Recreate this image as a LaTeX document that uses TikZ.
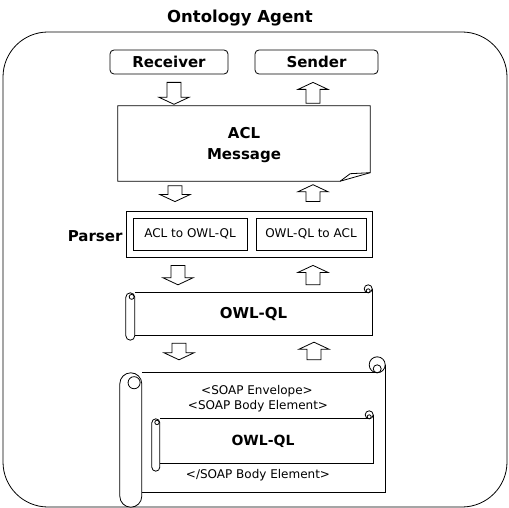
\documentclass[tikz,border=0pt]{standalone}
\usepackage{fontspec}
\setmainfont{DejaVu Sans}
\usetikzlibrary{calc}
\tikzset{
  ln/.style={line width=0.8pt, draw=black},
  boxlabel/.style={font=\bfseries\fontsize{15}{21}\selectfont, inner sep=0pt, align=center},
  titlest/.style={font=\bfseries\fontsize{16.5}{20}\selectfont, inner sep=0pt},
  plain/.style={font=\fontsize{12}{14}\selectfont, inner sep=0pt},
  blockdn/.style={ln, fill=white, to path={let \p1=(\tikztostart), \p2=(\tikztotarget) in
    (\x1-7pt,\y1) -- (\x1+7pt,\y1) -- (\x1+7pt,\y2+7pt) -- (\x1+15pt,\y2+7pt) -- (\x1,\y2)
    -- (\x1-15pt,\y2+7pt) -- (\x1-7pt,\y2+7pt) -- cycle}},
  blockup/.style={ln, fill=white, to path={let \p1=(\tikztostart), \p2=(\tikztotarget) in
    (\x1-7pt,\y1) -- (\x1+7pt,\y1) -- (\x1+7pt,\y2-7pt) -- (\x1+15pt,\y2-7pt) -- (\x1,\y2)
    -- (\x1-15pt,\y2-7pt) -- (\x1-7pt,\y2-7pt) -- cycle}},
}
% #1 body node, #2 curl radius, #3 roll half width, #4 roll extension below body
\newcommand{\scrollframe}[4]{%
  \draw[ln] (#1.north west) -- ([shift={(-#2,0)}]#1.north east);
  \draw[ln] ([shift={(0,-#2)}]#1.north east) -- (#1.south east) -- (#1.south west);
  \draw[ln] ([shift={(-#2,-#2)}]#1.north east) circle[radius=#2pt];
  \draw[ln] ([shift={(-#2,-0.5*#2)}]#1.north east) circle[radius=0.5*#2pt];
  \draw[ln, fill=white, rounded corners=#3pt] ([shift={(-2*#3,0)}]#1.north west) rectangle ([shift={(0,#4)}]#1.south west);
  \draw[ln] ([shift={(-0.7*#3,0.9*#3)}]#1.north west) circle[radius=0.55*#3pt];
}
\begin{document}
\begin{tikzpicture}[x=1pt,y=-1pt]
\useasboundingbox (0,0) rectangle (509,508);

\node[titlest] (title) at (240,18) {Ontology Agent};
\node[ln, rounded corners=45pt, minimum width=504pt, minimum height=475pt, inner sep=0pt] (agent) at (255,269.5) {};

\node[ln, rounded corners=4pt, boxlabel, minimum width=118pt, minimum height=24pt] (receiver) at (169,62) {Receiver};
\node[ln, rounded corners=4pt, boxlabel, minimum width=123pt, minimum height=24pt] (sender) at (316.5,62) {Sender};

\node[boxlabel, minimum width=252pt, minimum height=75pt] (acl) at (244,145) {ACL\\Message};
\draw[ln] ([yshift=1.5pt]acl.north west) -- ([yshift=1.5pt]acl.north east) -- ([shift={(0,-10)}]acl.south east)
  -- ([shift={(-30,-1.5)}]acl.south east) -- ([yshift=1.5pt]acl.south west) -- cycle;
\draw[ln] ([shift={(-30,-1.5)}]acl.south east) -- ([shift={(-20,-9)}]acl.south east) -- ([shift={(0,-10)}]acl.south east);

\node[ln, minimum width=246pt, minimum height=46pt, inner sep=0pt] (parser) at (249,234) {};
\node[ln, plain, minimum width=114pt, minimum height=32pt] (a2o) at (190,234) {ACL to OWL-QL};
\node[ln, plain, minimum width=110pt, minimum height=32pt] (o2a) at (311,234) {OWL-QL to ACL};
\node[boxlabel, anchor=east] (plabel) at ([shift={(-3,2)}]parser.west) {Parser};

\node[boxlabel, minimum width=237pt, minimum height=42pt] (owl) at (253.5,314) {OWL-QL};
\scrollframe{owl}{4}{4.5}{5}

\node[minimum width=243pt, minimum height=119pt, inner sep=0pt] (soap) at (263.5,432.5) {};
\scrollframe{soap}{8}{11}{15}
\node[plain] (env) at (257,391) {<SOAP Envelope>};
\node[plain] (bodyel) at (258,406) {<SOAP Body Element>};
\node[boxlabel, font=\bfseries\fontsize{14}{16}\selectfont, minimum width=213pt, minimum height=44pt] (owlin) at (266.5,441) {};
\node[boxlabel, font=\bfseries\fontsize{14}{16}\selectfont] (owlintext) at (263,441) {OWL-QL};
\scrollframe{owlin}{4}{4}{8}
\node[plain] (endel) at (258,475) {</SOAP Body Element>};

% block arrows
\draw[blockdn] ([shift={(5,8)}]receiver.south) to ([yshift=3pt]acl.north);
\draw[blockup] ([shift={(69,-4)}]acl.north) to ([yshift=-8pt]sender.south);
\draw[blockdn] ([shift={(-69,3)}]acl.south) to ([yshift=9pt]parser.north);
\draw[blockup] ([shift={(64,-9)}]parser.north) to ([yshift=-2pt]acl.south);
\draw[blockdn] ([shift={(-71,8)}]parser.south) to ([yshift=8pt]owl.north);
\draw[blockup] ([shift={(59.5,-8)}]owl.north) to ([yshift=-8pt]parser.south);
\draw[blockdn] ([shift={(-74.5,8)}]owl.south) to ([yshift=13pt]soap.north);
\draw[blockup] ([shift={(50.5,-13)}]soap.north) to ([yshift=-7pt]owl.south);
\end{tikzpicture}
\end{document}
